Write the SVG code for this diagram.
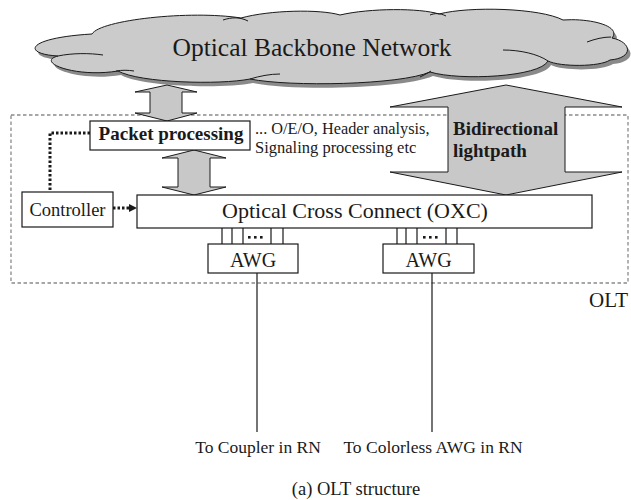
<svg xmlns="http://www.w3.org/2000/svg" width="631" height="500" viewBox="0 0 631 500">
<style>
text{font-family:"Liberation Serif","Times New Roman",serif;fill:#1a1a1a}
.box{fill:#fff;stroke:#1a1a1a;stroke-width:1.2}
.garrow{fill:#c8c8c8;stroke:#1a1a1a;stroke-width:1}
.ln{stroke:#1a1a1a;stroke-width:1.2;fill:none}
.crease{stroke:#1a1a1a;stroke-width:1;fill:none}
.b{font-weight:bold}
</style>
<defs>
<path id="cloudPath" d="M92,34 C100,20 190,10 241,18 C270,10 320,9 340,15 C370,8 420,8 439,14 C470,6 540,8 563,20 C590,18 622,26 612,38 C632,42 634,58 610,60 C600,67 560,67 548,61 C540,77 460,81 430,72 C400,85 290,87 250,79 C220,85 140,83 118,71 C75,78 35,62 58,56 C22,54 25,38 92,34 Z"/>
<marker id="ah" markerWidth="8" markerHeight="8" refX="7" refY="4" orient="auto" markerUnits="userSpaceOnUse">
<path d="M0,0 L8,4 L0,8 Z" fill="#1a1a1a"/>
</marker>
</defs>

<g id="cloud">
<use href="#cloudPath" transform="translate(3,4)" fill="#8a8a8a"/>
<use href="#cloudPath" fill="#cbcbcb" stroke="#1a1a1a" stroke-width="1"/>
<path class="crease" d="M58,56 C72,53 90,53 103,55"/>
<path class="crease" d="M116,71 C122,70 128,70 134,71"/>
<path class="crease" d="M223,20 C232,17 240,17 248,21"/>
<path class="crease" d="M430,15 C435,13 440,13 446,16"/>
<path class="crease" d="M587,42 C595,39 603,37 611,37"/>
<path class="crease" d="M503,50 C520,50 538,54 548,61"/>
<path class="crease" d="M420,77 C424,75 428,73 431,71"/>
<path class="crease" d="M250,79 C260,76 270,74 280,74"/>
<text x="312" y="56" font-size="25.5" text-anchor="middle">Optical Backbone Network</text>
</g>

<g id="olt">
<rect x="11" y="115" width="617" height="168" fill="none" stroke="#8a8a8a" stroke-width="1.3" stroke-dasharray="3.5 2.5"/>
<text x="628" y="307" font-size="21" text-anchor="end">OLT</text>
</g>

<g id="connectors">
<polygon class="garrow" points="506,85 622,107 565,107 565,172 622,172 506,195 390,172 448,172 448,107 390,107"/>
<polygon class="garrow" points="167,85 197,92 182,92 182,113 197,113 167,121 135,113 150,113 150,92 135,92"/>
<polygon class="garrow" points="194,150 226,158 210,158 210,187 226,187 194,195 162,187 178,187 178,158 162,158"/>
<path d="M90,133 H50 V192" fill="none" stroke="#1a1a1a" stroke-width="3" stroke-dasharray="2.5 2"/>
<path d="M113,208 H130" fill="none" stroke="#1a1a1a" stroke-width="3" stroke-dasharray="2.5 2"/>
<path d="M129,204 L137,208 L129,212 Z" fill="#1a1a1a"/>
<g class="ln">
<path d="M222,228 V244 M232,228 V244 M243,228 V244 M271,228 V244 M283,228 V244"/>
<path d="M397,228 V244 M406,228 V244 M417,228 V244 M446,228 V244 M457,228 V244"/>
<path d="M257,273 V432 M432,273 V432"/>
</g>
<g fill="#1a1a1a">
<rect x="248" y="236" width="2.6" height="2.6"/><rect x="254" y="236" width="2.6" height="2.6"/><rect x="260" y="236" width="2.6" height="2.6"/>
<rect x="423" y="236" width="2.6" height="2.6"/><rect x="429" y="236" width="2.6" height="2.6"/><rect x="435" y="236" width="2.6" height="2.6"/>
</g>
</g>

<g id="packet">
<rect class="box" x="90" y="121" width="160" height="29"/>
<text class="b" x="171" y="140" font-size="19" text-anchor="middle">Packet processing</text>
</g>
<g id="notes">
<text x="255" y="134" font-size="16.3">... O/E/O, Header analysis,</text>
<text x="255" y="153" font-size="16.5">Signaling processing etc</text>
</g>
<g id="bidir-label">
<text class="b" x="453" y="135" font-size="19">Bidirectional</text>
<text class="b" x="453" y="157" font-size="19">lightpath</text>
</g>
<g id="controller">
<rect class="box" x="22" y="192" width="91" height="35"/>
<text x="67.5" y="216" font-size="18.5" text-anchor="middle">Controller</text>
</g>
<g id="oxc">
<rect class="box" x="137" y="195" width="455" height="33"/>
<text x="355" y="218" font-size="22" text-anchor="middle">Optical Cross Connect (OXC)</text>
</g>
<g id="awg1">
<rect class="box" x="208" y="244" width="90" height="29"/>
<text x="253" y="267" font-size="20" text-anchor="middle">AWG</text>
</g>
<g id="awg2">
<rect class="box" x="383" y="244" width="91" height="29"/>
<text x="428.5" y="267" font-size="20" text-anchor="middle">AWG</text>
</g>
<g id="labels">
<text x="258" y="453" font-size="17.5" text-anchor="middle">To Coupler in RN</text>
<text x="433" y="453" font-size="17.5" text-anchor="middle">To Colorless AWG in RN</text>
<text x="356" y="495" font-size="18.5" text-anchor="middle">(a) OLT structure</text>
</g>
</svg>
